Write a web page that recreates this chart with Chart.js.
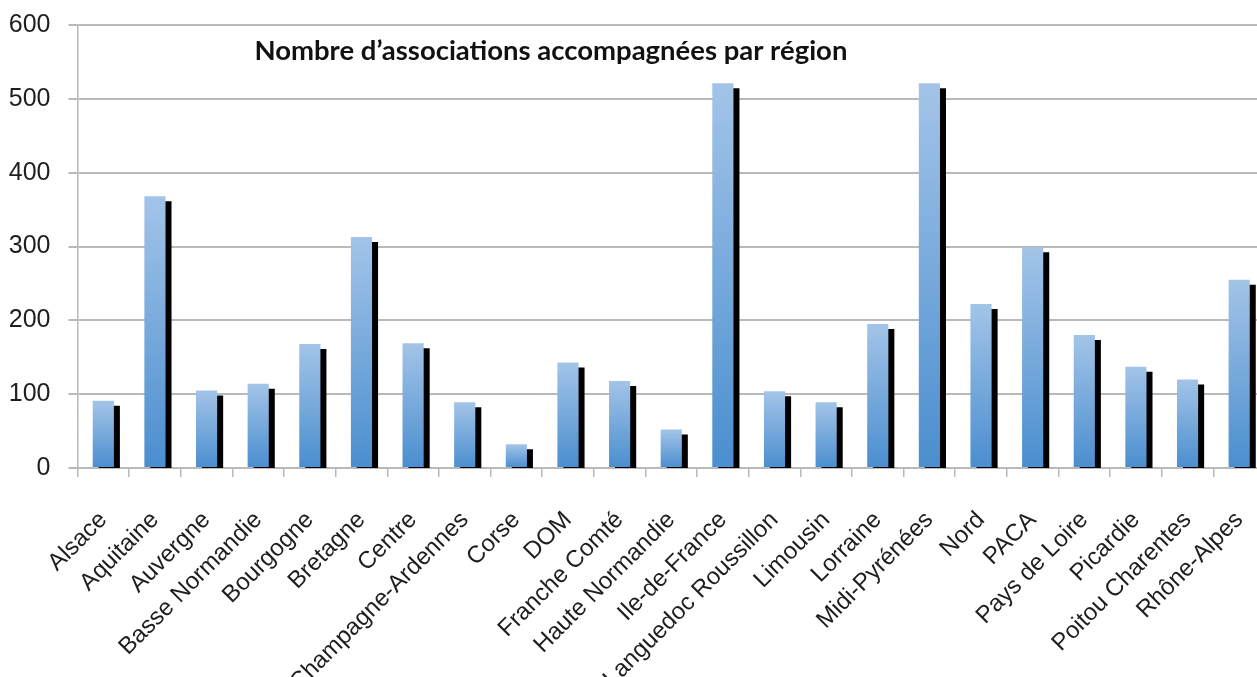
<!DOCTYPE html>
<html>
<head>
<meta charset="utf-8">
<script src="https://cdn.jsdelivr.net/npm/chart.js@4.4.1/dist/chart.umd.min.js"></script>
<style>
    html, body { margin: 0; padding: 0; background: #fff; overflow: hidden; }
    #wrap { width: 1266px; height: 677px; position: relative; }
</style>
</head>
<body>
<div id="wrap"><canvas id="chart"></canvas></div>
<script>
const regions = [
    "Alsace", "Aquitaine", "Auvergne", "Basse Normandie", "Bourgogne", "Bretagne",
    "Centre", "Champagne-Ardennes", "Corse", "DOM", "Franche Comté", "Haute Normandie",
    "Ile-de-France", "Languedoc Roussillon", "Limousin", "Lorraine", "Midi-Pyrénées",
    "Nord", "PACA", "Pays de Loire", "Picardie", "Poitou Charentes", "Rhône-Alpes"
]
const associations = [
    91, 368, 105, 114, 168, 313,
    169, 89, 32, 143, 118, 52,
    521, 104, 89, 195, 521,
    222, 299, 180, 137, 120, 255
]
const yMin = 0
const yMax = 600
const yStep = 100
const chartTitle = "Nombre d’associations accompagnées par région"

const gridGrey = '#b9b9b9'
const textColor = '#1e1e1e'
const tickFamily = '"Liberation Sans", Arial, sans-serif'

// each bar gets its own light-to-dark gradient, from its top down to the base
function barGradient(ctx) {
    const chart = ctx.chart
    if (!chart.chartArea || ctx.type !== 'data') return '#5b9bd5'
    const y = chart.scales.y
    const top = y.getPixelForValue(ctx.raw)
    const bottom = y.getPixelForValue(0)
    const g = chart.ctx.createLinearGradient(0, top, 0, bottom)
    g.addColorStop(0, '#a3c4e8')
    g.addColorStop(1, '#4a8ecf')
    return g
}

// black drop shadow to the right of every bar
const barShadow = {
    id: 'barShadow',
    beforeDatasetDraw(chart) {
        const c = chart.ctx
        c.save()
        c.shadowColor = '#000'
        c.shadowOffsetX = 6
        c.shadowOffsetY = 5
        c.shadowBlur = 0
    },
    afterDatasetDraw(chart) {
        chart.ctx.restore()
    }
}

// title sits inside the plot area, left of centre
const innerTitle = {
    id: 'innerTitle',
    afterDraw(chart) {
        const c = chart.ctx
        const area = chart.chartArea
        c.save()
        let size = 24
        c.font = `bold ${size}px Lato`
        const w = c.measureText(chartTitle).width
        size = size * 593 / w
        c.font = `bold ${size}px Lato`
        c.fillStyle = '#111'
        c.textBaseline = 'alphabetic'
        c.fillText(chartTitle, area.left + 177, area.top + 35)
        c.restore()
    }
}

new Chart(document.getElementById('chart'), {
    type: 'bar',
    data: {
        labels: regions,
        datasets: [{
            data: associations,
            backgroundColor: barGradient,
            borderWidth: 0,
            categoryPercentage: 1,
            barPercentage: 0.41,
            clip: 0
        }]
    },
    options: {
        responsive: true,
        maintainAspectRatio: false,
        animation: false,
        layout: { padding: { top: 25, right: 1, bottom: 0, left: 0 } },
        plugins: {
            legend: { display: false },
            tooltip: { enabled: false }
        },
        scales: {
            x: {
                afterFit(s) {
                    s.height = 209
                    s.paddingLeft = 0
                    s.paddingRight = 0
                },
                grid: { drawOnChartArea: false, tickLength: 9, color: gridGrey, lineWidth: 1.5, offset: true },
                border: { color: gridGrey, width: 2 },
                ticks: {
                    color: textColor,
                    font: { family: tickFamily, size: 24 },
                    maxRotation: 45,
                    minRotation: 45,
                    autoSkip: false,
                    padding: 29
                }
            },
            y: {
                min: yMin,
                max: yMax,
                afterFit(s) {
                    s.width = 77.5
                    s.paddingTop = 0
                    s.paddingBottom = 0
                },
                grid: { color: gridGrey, lineWidth: 2, tickLength: 9 },
                border: { color: gridGrey, width: 1.5 },
                ticks: {
                    stepSize: yStep,
                    color: textColor,
                    font: { family: tickFamily, size: 25 },
                    padding: 18
                }
            }
        }
    },
    plugins: [barShadow, innerTitle]
})
</script>
</body>
</html>
